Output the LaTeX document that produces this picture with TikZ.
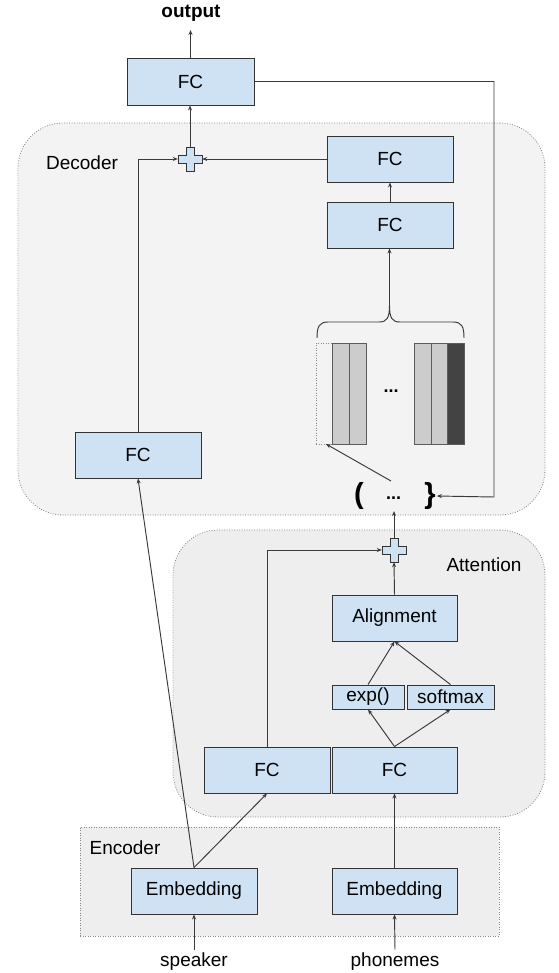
\documentclass[tikz,border=0pt]{standalone}
\usepackage{fontspec}
\setmainfont{Liberation Sans}
\usetikzlibrary{arrows.meta,calc}
\definecolor{boxfill}{HTML}{CFE2F3}
\definecolor{boxline}{HTML}{333333}
\definecolor{lne}{HTML}{3A3A3A}
\definecolor{decfill}{HTML}{F3F3F3}
\definecolor{attfill}{HTML}{EEEEEE}
\definecolor{regline}{HTML}{8A8A8A}
\definecolor{barlight}{HTML}{CCCCCC}
\definecolor{bardark}{HTML}{434343}
\tikzset{
  txt/.style={font=\fontsize{19}{21}\selectfont, text=black},
  box/.style={txt, draw=boxline, fill=boxfill, line width=0.9pt, inner sep=0pt},
  region/.style={draw=regline, line width=0.8pt, dash pattern=on 0.9pt off 1.6pt, inner sep=0pt},
  arr/.style={draw=lne, line width=0.95pt, -{Stealth[length=5pt,width=4pt]}},
  ln/.style={draw=lne, line width=0.95pt},
  plusshape/.style={draw=boxline, fill=boxfill, line width=0.9pt},
  bar/.style={draw=boxline!80, line width=0.8pt, fill=barlight},
}
\begin{document}
\begin{tikzpicture}[x=1pt,y=-1pt]
\useasboundingbox (0,0) rectangle (558,973);

% regions
\node[region, fill=decfill, rounded corners=45pt, minimum width=527pt, minimum height=392pt] (decoder) at (281.5,319) {};
\node[region, fill=attfill, rounded corners=45pt, minimum width=372pt, minimum height=287pt] (attention) at (359,673.5) {};
\node[region, fill=attfill, minimum width=419pt, minimum height=109pt] (encoder) at (289.5,881.5) {};
\node[txt] (declab) at (82,163) {Decoder};
\node[txt] (attlab) at (484,565) {Attention};
\node[txt] (enclab) at (125,848) {Encoder};

% boxes
\node[box, minimum width=127pt, minimum height=47pt] (outFC) at (190.5,81.5) {FC};
\node[box, minimum width=126pt, minimum height=46pt] (dFCa) at (390,159) {FC};
\node[box, minimum width=126pt, minimum height=46pt] (dFCb) at (390,225) {FC};
\node[box, minimum width=126pt, minimum height=46pt] (dFCl) at (138,455) {FC};
\node[box, minimum width=125pt, minimum height=46pt] (align) at (394.5,618) {Alignment};
\node[box, minimum width=72pt, minimum height=24pt] (expb) at (368,697) {exp()};
\node[box, minimum width=87pt, minimum height=24pt] (soft) at (450.5,697) {softmax};
\node[box, minimum width=126pt, minimum height=46pt] (aFCl) at (267,770) {FC};
\node[box, minimum width=125pt, minimum height=46pt] (aFCr) at (394.5,770) {FC};
\node[box, minimum width=126pt, minimum height=46pt] (embA) at (194,891) {Embedding};
\node[box, minimum width=125pt, minimum height=46pt] (embB) at (394.5,891) {Embedding};

% inputs / output
\node[txt] (speaker) at (194,962) {speaker};
\node[txt] (phon) at (395,962) {phonemes};
\node[txt, font=\fontsize{19}{21}\selectfont\bfseries] (output) at (191,13) {output};
\coordinate (outtip) at (190.5,30);

% plus nodes
\node[minimum size=24pt, inner sep=0pt] (p1) at (190,159) {};
\node[minimum size=24pt, inner sep=0pt] (p2) at (394,550) {};
\foreach \p in {p1,p2}{
  \draw[plusshape] (\p.center) ++(-4,-12) -- ++(8,0) -- ++(0,8) -- ++(8,0) -- ++(0,8) -- ++(-8,0) -- ++(0,8) -- ++(-8,0) -- ++(0,-8) -- ++(-8,0) -- ++(0,-8) -- ++(8,0) -- cycle;
}

% memory bars
\node[draw=regline, line width=0.8pt, dash pattern=on 0.9pt off 1.6pt, minimum width=16pt, minimum height=101pt, inner sep=0pt] (slot) at (324,393.5) {};
\node[bar, minimum width=17pt, minimum height=101pt, inner sep=0pt] (b1) at (340.5,393.5) {};
\node[bar, minimum width=17pt, minimum height=101pt, inner sep=0pt] (b2) at (357.5,393.5) {};
\node[txt, font=\fontsize{18}{20}\selectfont\bfseries] (mdots) at (391,391) {...};
\node[bar, minimum width=17pt, minimum height=101pt, inner sep=0pt] (b3) at (422.5,393.5) {};
\node[bar, minimum width=16pt, minimum height=101pt, inner sep=0pt] (b4) at (439,393.5) {};
\node[bar, fill=bardark, minimum width=17pt, minimum height=101pt, inner sep=0pt] (b5) at (455.5,393.5) {};

% brace
\coordinate (btip) at (389.5,305);
\draw[ln] (317,338) .. controls (317,327) and (319,322) .. (328,322) -- (379,322) .. controls (387,322) and (389.5,318) .. (btip) .. controls (389.5,318) and (392,322) .. (400,322) -- (453,322) .. controls (462,322) and (464,327) .. (464,338);

% bracket group
\node[font=\fontsize{29}{31}\selectfont\bfseries, inner sep=0pt] (lb) at (359,496) {(};
\node[txt, font=\fontsize{18}{20}\selectfont\bfseries, inner sep=0pt] (dd) at (393.5,498) {...};
\node[font=\fontsize{29}{31}\selectfont\bfseries, inner sep=1pt] (rb) at (430,496) {\}};
\coordinate (ddtop) at (391,481);
\coordinate (slottip) at (326,444);
\coordinate (rc) at (494,497);

% connectors
\draw[arr] (outFC.north) -- (outtip);
\draw[arr] (p1.north) -- (p1.north |- outFC.south);
\draw[arr] (dFCa.west) -- (p1.east);
\draw[arr] (dFCl.north) |- (p1.west);
\draw[arr] (dFCb.north) -- (dFCa.south);
\draw[arr] (btip) -- (btip |- dFCb.south);
\draw[arr] (ddtop) -- (slottip);
\draw[arr] (outFC.east) -| (rc) -- (rb.east);
\draw[arr] (p2.north) -- (394,511);
\draw[arr] (align.north) -- (p2.south);
\draw[arr] (aFCl.north) |- (p2.west);
\draw[arr] (expb.north) -- (align.south);
\draw[arr] (soft.north) -- (align.south);
\draw[arr] (aFCr.north) -- (expb.south);
\draw[arr] (aFCr.north) -- (soft.south);
\draw[arr] (embB.north) -- (aFCr.south);
\draw[arr] (embA.north) -- (aFCl.south);
\draw[arr] (embA.north) -- (dFCl.south);
\draw[arr] (speaker.north) -- (embA.south);
\draw[arr] (phon.north) -- (embB.south);
\end{tikzpicture}
\end{document}
